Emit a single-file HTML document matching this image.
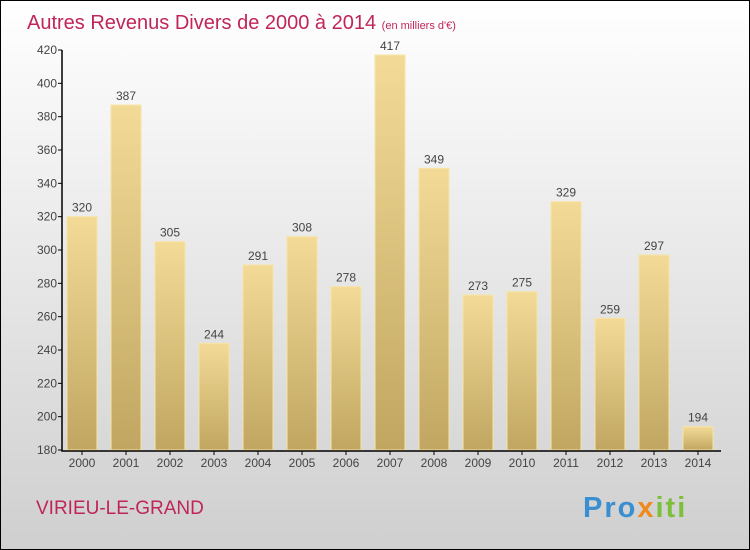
<!DOCTYPE html>
<html><head><meta charset="utf-8"><style>
body{margin:0}
#c{width:748px;height:548px;border:1px solid #000;background:linear-gradient(#fff,#cfcfcf);position:relative;font-family:"Liberation Sans",sans-serif;overflow:hidden}
</style></head><body>
<div id="c">
<svg width="748" height="548" id="s">
<defs><linearGradient id="g" x1="0" y1="0" x2="0" y2="1"><stop offset="0" stop-color="#f3db97"/><stop offset="1" stop-color="#c0a661"/></linearGradient></defs>
<text x="26" y="28" font-size="20" fill="#c0255a">Autres Revenus Divers de 2000 à 2014 <tspan font-size="11">(en milliers d'€)</tspan></text>
<text x="35" y="513" font-size="19" fill="#c0255a">VIRIEU-LE-GRAND</text>
<text x="582" y="516" font-size="29" font-weight="bold" letter-spacing="2" fill="#3a8fd0">Pro<tspan fill="#f08a1c">x</tspan><tspan fill="#7cbf3a">iti</tspan></text>
</svg></div>
<script>
const years=["2000","2001","2002","2003","2004","2005","2006","2007","2008","2009","2010","2011","2012","2013","2014"];
const values=[320,387,305,244,291,308,278,417,349,273,275,329,259,297,194];
const ticks=[180,200,220,240,260,280,300,320,340,360,380,400,420];
const s=document.getElementById('s'),NS="http://www.w3.org/2000/svg";
const y=v=>449-(v-180)*400/240, x=i=>81+i*44;
function mk(t,a,txt){const e=document.createElementNS(NS,t);for(const k in a)e.setAttribute(k,a[k]);if(txt!=null)e.textContent=txt;s.appendChild(e);return e;}
ticks.forEach(t=>{
const l=mk('line',{x1:57,x2:61,y1:y(t),y2:y(t),stroke:'#000'});


const tx=mk('text',{x:56,y:y(t)+4,'font-size':12,'text-anchor':'end',fill:'#444'},t);


});
years.forEach((yr,i)=>{
const r=mk('rect',{x:x(i)-15,y:y(values[i]),width:30,height:449-y(values[i]),fill:'url(#g)',stroke:'#f6e4a8','stroke-width':1});


const v=mk('text',{x:x(i),y:y(values[i])-5,'font-size':12,'text-anchor':'middle',fill:'#444'},values[i]);


const t=mk('text',{x:x(i),y:466,'font-size':12,'text-anchor':'middle',fill:'#444'},yr);


const tk=mk('line',{x1:x(i),x2:x(i),y1:450,y2:454,stroke:'#000'});


});
const ax=mk('path',{d:'M61 49V450H720',stroke:'#000','stroke-width':1.5,fill:'none'});


</script>
</body></html>
